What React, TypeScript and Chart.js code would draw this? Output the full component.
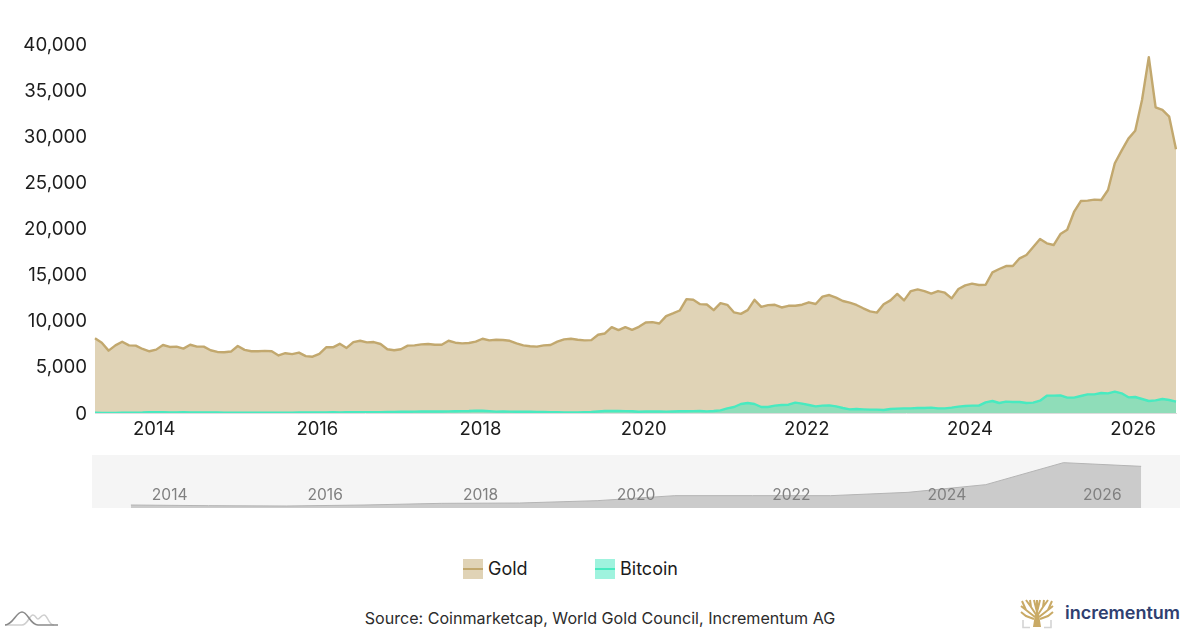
import { useEffect, useRef } from 'react';
import { Chart, registerables } from 'chart.js';

Chart.register(...registerables);

const FONT = 'Inter, "Noto Sans", sans-serif';
const GOLD_LINE = 'rgb(194, 168, 110)';
const GOLD_FILL = 'rgba(194, 168, 110, 0.5)';
const BTC_LINE = 'rgb(72, 234, 192)';
const BTC_FILL = 'rgba(64, 232, 190, 0.5)';

// month labels, first point is April 2013
const categories: string[] = [];
for (let n = 0; n < 160; n++) {
  const m = 3 + n;
  categories.push(`${2013 + Math.floor(m / 12)}-${String((m % 12) + 1).padStart(2, '0')}`);
}

const goldValues = [
  8100, 7620, 6760, 7330, 7730, 7330, 7300, 6940, 6690, 6870,
  7370, 7160, 7190, 6980, 7400, 7190, 7190, 6800, 6620, 6590,
  6660, 7260, 6840, 6690, 6690, 6730, 6690, 6240, 6480, 6380,
  6550, 6170, 6100, 6410, 7120, 7120, 7500, 7050, 7690, 7830,
  7660, 7690, 7480, 6910, 6800, 6910, 7300, 7330, 7440, 7480,
  7400, 7400, 7830, 7620, 7550, 7590, 7730, 8050, 7870, 7940,
  7910, 7830, 7550, 7330, 7230, 7190, 7330, 7370, 7730, 7980,
  8050, 7940, 7870, 7900, 8480, 8620, 9310, 8980, 9310, 9020,
  9340, 9810, 9850, 9700, 10500, 10790, 11110, 12340, 12270, 11800,
  11760, 11150, 11910, 11730, 10900, 10750, 11150, 12270, 11510, 11690,
  11730, 11440, 11620, 11620, 11740, 12000, 11820, 12610, 12790, 12500,
  12140, 11960, 11710, 11350, 11020, 10880, 11780, 12210, 12900, 12210,
  13220, 13400, 13220, 12940, 13220, 13040, 12430, 13440, 13840, 14020,
  13880, 13900, 15250, 15610, 15930, 15930, 16770, 17130, 17990, 18860,
  18390, 18210, 19400, 19870, 21790, 22980, 23020, 23130, 23090, 24170,
  27070, 28440, 29740, 30600, 33930, 38560, 33140, 32850, 32120, 28590,
];

const bitcoinValues = [
  20, 15, 15, 15, 20, 20, 30, 50, 100, 90,
  80, 70, 60, 80, 70, 70, 60, 50, 50, 40,
  30, 30, 30, 30, 30, 30, 30, 40, 40, 40,
  50, 50, 60, 70, 70, 80, 70, 90, 90, 90,
  90, 90, 100, 110, 120, 130, 140, 150, 160, 170,
  160, 170, 180, 190, 200, 210, 260, 240, 200, 150,
  170, 150, 140, 140, 130, 125, 110, 100, 90, 70,
  70, 70, 90, 110, 170, 220, 230, 210, 200, 190,
  130, 170, 170, 160, 150, 170, 190, 190, 200, 210,
  180, 215, 290, 500, 650, 975, 1083, 975, 650, 650,
  800, 866, 900, 1120, 1012, 867, 722, 795, 831, 722,
  542, 397, 434, 397, 361, 361, 325, 434, 470, 506,
  506, 542, 542, 578, 506, 506, 578, 686, 759, 795,
  795, 1156, 1301, 1084, 1229, 1192, 1192, 1084, 1120, 1337,
  1879, 1879, 1915, 1662, 1662, 1843, 2024, 2024, 2168, 2132,
  2313, 2132, 1699, 1735, 1518, 1301, 1373, 1518, 1409, 1229,
];

const yTicks = [0, 5000, 10000, 15000, 20000, 25000, 30000, 35000, 40000];

// navigator strip below the main plot
const navYears = [
  2013.5, 2014.5, 2015.5, 2016.5, 2017.5, 2018.5, 2019.5,
  2020.5, 2021.5, 2022.5, 2023.5, 2024.5, 2025.5, 2026.5,
];
const navValues = [900, 700, 600, 900, 1400, 1500, 2200, 3700, 3700, 3700, 4700, 7000, 13600, 12500];

const legendItems = [
  { label: 'Gold', left: 463, fill: GOLD_FILL, line: GOLD_LINE },
  { label: 'Bitcoin', left: 595, fill: BTC_FILL, line: BTC_LINE },
];

function TreeLogo() {
  return (
    <svg width={34} height={30} viewBox="0 0 34 30" style={{ position: 'absolute', left: 1020, top: 599 }}>
      <g stroke="#c9aa66" fill="none" strokeWidth={2}>
        <path d="M17 20 L17 1 M17 17 L11 8 L10 1 M11 8 L6 1 M17 17 L23 8 L24 1 M23 8 L28 1 M17 13 L14 1 M17 13 L20 1 M15 18 L6 11 L1 7 M6 11 L2 2 M19 18 L28 11 L33 7 M28 11 L32 2 M14 20 L6 17 L1 13 M20 20 L28 17 L33 13" />
      </g>
      <path d="M13 28 L15 15 L19 15 L21 28 Z" fill="#c9aa66" />
      <path d="M3 21 L3 28.5 L10 28.5 M31 21 L31 28.5 L24 28.5" stroke="#d4d4d4" strokeWidth={1.6} fill="none" />
    </svg>
  );
}

function CurvesMark() {
  return (
    <svg width={56} height={18} viewBox="0 0 56 18" style={{ position: 'absolute', left: 4, top: 610 }}>
      <path d="M1 15 L18 15 C24 15 25 5 29 5 C32 5 32 9 34 9 C36 9 37 5 40 5 C44 5 44 15 50 15" stroke="#cfcfcf" strokeWidth={1.6} fill="none" />
      <path d="M1 15 C9 15 12 2 18 2 C24 2 26 15 34 15 L54 15" stroke="#8a8a8a" strokeWidth={1.6} fill="none" />
    </svg>
  );
}

export default function App() {
  const mainRef = useRef<HTMLCanvasElement>(null);
  const navRef = useRef<HTMLCanvasElement>(null);

  useEffect(() => {
    const main = new Chart(mainRef.current!.getContext('2d')!, {
      type: 'line',
      data: {
        labels: categories,
        datasets: [
          {
            label: 'Gold',
            data: goldValues,
            borderColor: GOLD_LINE,
            backgroundColor: GOLD_FILL,
            borderWidth: 2.4,
            borderJoinStyle: 'round',
            pointRadius: 0,
            fill: 'origin',
            order: 2,
          },
          {
            label: 'Bitcoin',
            data: bitcoinValues,
            borderColor: BTC_LINE,
            backgroundColor: BTC_FILL,
            borderWidth: 2.4,
            borderJoinStyle: 'round',
            pointRadius: 0,
            fill: 'origin',
            order: 1,
          },
        ],
      },
      options: {
        animation: false,
        responsive: false,
        layout: { padding: { top: 44, right: 24, left: 0, bottom: 0 } },
        plugins: { legend: { display: false }, tooltip: { enabled: false } },
        scales: {
          x: {
            grid: { display: false },
            border: { color: '#dcdcdc', width: 1 },
            afterFit: (scale: any) => {
              scale.height = 37;
            },
            ticks: {
              autoSkip: false,
              maxRotation: 0,
              padding: -3,
              labelOffset: -2,
              color: '#1c1c1c',
              font: { family: FONT, size: 18.5 },
              callback: (_v: any, i: number) => {
                const [y, m] = categories[i].split('-');
                return m === '01' && Number(y) % 2 === 0 ? y : '';
              },
            },
          },
          y: {
            min: 0,
            max: 40000,
            grid: { display: false, drawTicks: false },
            border: { display: false },
            afterFit: (scale: any) => {
              scale.width = 95;
            },
            afterBuildTicks: (scale: any) => {
              scale.ticks = yTicks.map((value) => ({ value }));
            },
            ticks: {
              padding: 8,
              labelOffset: 1,
              color: '#1c1c1c',
              font: { family: FONT, size: 18.7 },
              callback: (v: any) => Number(v).toLocaleString('en-US'),
            },
          },
        },
      },
    });

    const nav = new Chart(navRef.current!.getContext('2d')!, {
      type: 'line',
      data: {
        datasets: [
          {
            data: navYears.map((x, i) => ({ x, y: navValues[i] })),
            borderColor: '#b4b4b4',
            backgroundColor: '#cbcbcb',
            borderWidth: 1,
            pointRadius: 0,
            fill: 'origin',
          },
        ],
      },
      options: {
        animation: false,
        responsive: false,
        layout: { padding: 0 },
        plugins: { legend: { display: false }, tooltip: { enabled: false } },
        scales: {
          x: {
            type: 'linear',
            min: 2013,
            max: 2027,
            grid: { display: false, drawTicks: false },
            border: { display: false },
            afterFit: (scale: any) => {
              scale.height = 0;
              // tick padding would otherwise inset the plot sideways
              scale.paddingLeft = 0;
              scale.paddingRight = 0;
            },
            ticks: {
              stepSize: 1,
              autoSkip: false,
              maxRotation: 0,
              // mirrored ticks sit inside the plot
              mirror: true,
              padding: 3,
              z: 1,
              color: '#808080',
              font: { family: FONT, size: 15.6 },
              callback: (v: any) => (Number(v) % 2 === 0 ? String(v) : ''),
            },
          },
          y: { display: false, min: 0, max: 15900 },
        },
      },
    });

    return () => {
      main.destroy();
      nav.destroy();
    };
  }, []);

  return (
    <div style={{ position: 'absolute', left: 0, top: 0, width: 1200, height: 631, background: '#fff', overflow: 'hidden', fontFamily: FONT }}>
      <canvas ref={mainRef} width={1200} height={450} style={{ position: 'absolute', left: 0, top: 0 }} />
      <canvas ref={navRef} width={1088} height={53} style={{ position: 'absolute', left: 92, top: 455, background: '#f5f5f5' }} />

      {legendItems.map((item) => (
        <div key={item.label} style={{ position: 'absolute', left: item.left, top: 559, height: 20, display: 'flex', alignItems: 'center' }}>
          <div style={{ width: 20, height: 20, background: item.fill, position: 'relative' }}>
            <div style={{ position: 'absolute', left: 0, right: 0, top: 9, height: 2, background: item.line }} />
          </div>
          <span style={{ marginLeft: 5, marginTop: -2, fontSize: 18, color: '#1c1c1c' }}>{item.label}</span>
        </div>
      ))}

      <div style={{ position: 'absolute', left: 0, width: 1200, top: 608, textAlign: 'center', fontSize: 16.1, color: '#2c2c2c' }}>
        Source: Coinmarketcap, World Gold Council, Incrementum AG
      </div>

      <CurvesMark />
      <TreeLogo />
      <div style={{ position: 'absolute', left: 1065, top: 602, fontSize: 18, fontWeight: 600, color: '#2f4070', fontFamily: 'Inter, sans-serif' }}>
        incrementum
      </div>
    </div>
  );
}
